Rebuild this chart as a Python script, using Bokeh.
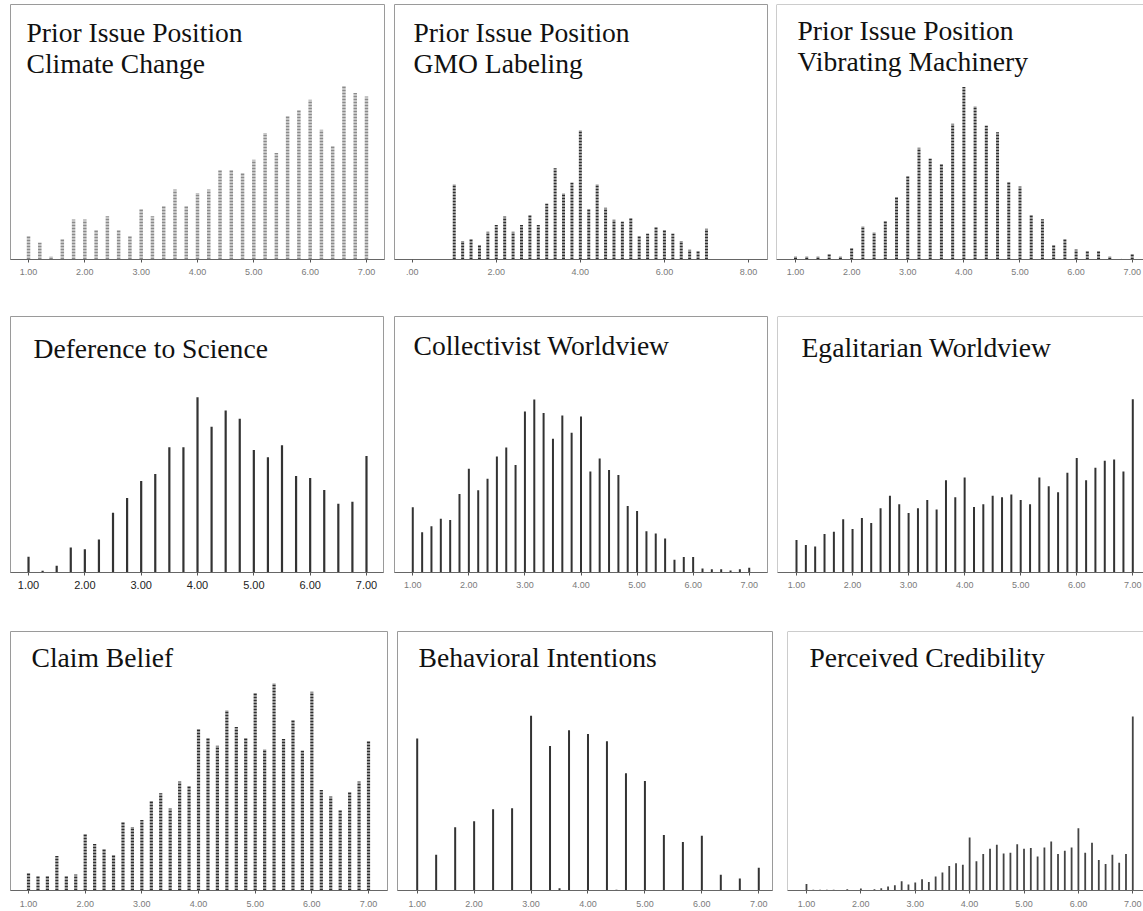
from bokeh.plotting import figure
from bokeh.layouts import column, row
from bokeh.models import ColumnDataSource, Label, Span, FixedTicker
from bokeh.embed import file_html
from bokeh.resources import INLINE

# ---------------- data ----------------
X_FIFTHS = [1.0, 1.2, 1.4, 1.6, 1.8, 2.0, 2.2, 2.4, 2.6, 2.8, 3.0, 3.2, 3.4, 3.6, 3.8, 4.0,
            4.2, 4.4, 4.6, 4.8, 5.0, 5.2, 5.4, 5.6, 5.8, 6.0, 6.2, 6.4, 6.6, 6.8, 7.0]
X_QUARTERS = [1.0, 1.25, 1.5, 1.75, 2.0, 2.25, 2.5, 2.75, 3.0, 3.25, 3.5, 3.75, 4.0, 4.25, 4.5,
              4.75, 5.0, 5.25, 5.5, 5.75, 6.0, 6.25, 6.5, 6.75, 7.0]
X_SIXTHS = [1.0, 1.167, 1.333, 1.5, 1.667, 1.833, 2.0, 2.167, 2.333, 2.5, 2.667, 2.833, 3.0,
            3.167, 3.333, 3.5, 3.667, 3.833, 4.0, 4.167, 4.333, 4.5, 4.667, 4.833, 5.0, 5.167,
            5.333, 5.5, 5.667, 5.833, 6.0, 6.167, 6.333, 6.5, 6.667, 6.833, 7.0]
X_EIGHTHS = [1.0, 1.125, 1.25, 1.375, 1.5, 1.625, 1.75, 1.875, 2.0, 2.125, 2.25, 2.375, 2.5,
             2.625, 2.75, 2.875, 3.0, 3.125, 3.25, 3.375, 3.5, 3.625, 3.75, 3.875, 4.0, 4.125,
             4.25, 4.375, 4.5, 4.625, 4.75, 4.875, 5.0, 5.125, 5.25, 5.375, 5.5, 5.625, 5.75,
             5.875, 6.0, 6.125, 6.25, 6.375, 6.5, 6.625, 6.75, 6.875, 7.0]
X_BEHAV = [1.0, 1.333, 1.667, 2.0, 2.333, 2.667, 3.0, 3.333, 3.5, 3.667, 4.0, 4.333, 4.5,
           4.667, 5.0, 5.333, 5.667, 6.0, 6.333, 6.667, 7.0]

climate_change = [7, 5, 1, 6, 12, 12, 9, 13, 9, 7, 15, 13, 16, 21, 16, 20, 21, 27, 27, 26,
                  30, 38, 32, 43, 45, 48, 39, 34, 52, 50, 49]
gmo_labeling = [22.5, 5.5, 6, 4.5, 8.3, 10.3, 12.9, 8.3, 10.3, 13.5, 10.3, 16.7, 27.3, 19.8,
                23, 38.7, 15, 22.5, 15.5, 11.9, 11.3, 12.3, 7.1, 7.7, 9.8, 8.7, 7.7, 5.5,
                2.9, 2.5, 9.2]
vibrating_machinery = [1, 1, 1, 1.6, 1, 3.6, 10, 8.2, 11.4, 18.6, 25.2, 33.6, 30.3, 28.5,
                       40.8, 51.8, 46, 40.2, 38.2, 23.3, 21.9, 13.4, 12.1, 4.2, 6.2, 3, 2.4,
                       2.4, 1, 0, 1.6]
deference_science = [4.7, 0.5, 2, 7.5, 7, 9.9, 17.9, 22.3, 27.4, 29.5, 37.5, 37.5, 52.5,
                     43.7, 48.5, 46.1, 36.7, 34.5, 38.1, 28.9, 28.3, 24.7, 20.6, 21.2, 34.9]
collectivist = [19.4, 12, 13.8, 16, 15.6, 23.4, 30.9, 24.5, 27.9, 34.5, 37.2, 32, 47.9, 51.5,
                47.5, 39.8, 46.7, 41.6, 46.4, 30.1, 33.9, 30.5, 29, 19.8, 18.3, 12.3, 11.6,
                10.1, 3.8, 4.6, 4.6, 1.2, 1, 1, 0.6, 1, 1.4]
egalitarian = [9.7, 8.2, 7.8, 11.5, 12.2, 15.9, 13, 16.3, 14.8, 19.2, 22.9, 20.4, 17.8, 19.2,
               21.7, 18.8, 27.6, 22.5, 28.4, 19.6, 20.4, 22.9, 22.5, 23.3, 21.7, 20.4, 28.4,
               25.8, 24, 29.8, 34.2, 27.6, 31.3, 33.4, 33.8, 30.2, 51.8]
claim_belief = [5.3, 4.3, 4.3, 10.3, 4.3, 4.8, 17, 13.9, 12.4, 10.8, 20.5, 19, 21.1, 26.6,
                29.1, 24.5, 32.6, 31.2, 48.3, 45.8, 43.3, 53.9, 48.9, 45.8, 59, 42.3, 62,
                45.3, 50.9, 41.8, 59.5, 30.1, 28.1, 24.1, 29.6, 32.6, 44.8]
behavioral = [46.1, 10.8, 19.2, 21, 24.6, 24.9, 53, 43.8, 0.7, 48.6, 47.4, 45.2, 0.2, 35.5,
              33.2, 16.8, 14.7, 16.6, 4.8, 3.6, 6.9]
credibility = [2, 0.2, 0.2, 0.2, 0.2, 0, 0.4, 0, 0.6, 0, 0.4, 0.7, 1.2, 1.6, 2.8, 1.8, 2.4,
               3.4, 2.6, 4.2, 5.4, 7.4, 8.2, 7.8, 16, 8.8, 11, 12.6, 13.8, 11.2, 11.4, 14,
               12.6, 12.8, 10.3, 13, 14.8, 11, 12, 13, 18.8, 11.4, 14.4, 9.2, 8, 10.8, 8.4,
               11, 52.5]

TICKS_1_7 = [1, 2, 3, 4, 5, 6, 7]
LABELS_1_7 = ["1.00", "2.00", "3.00", "4.00", "5.00", "6.00", "7.00"]
TICKS_0_8 = [0, 2, 4, 6, 8]
LABELS_0_8 = [".00", "2.00", "4.00", "6.00", "8.00"]

TITLE_FONT = "Liberation Serif"
TICK_FONT = "Liberation Sans"


def panel(x, h, titles, width, height, borders, x_range, y_end, ticks, labels,
          bar_color, bar_width, bar_dash, title_x, title_ys, tick_size="9px",
          tick_color="#7a7a7a", standoff=6, open_right=False):
    left, right, top, bottom = borders
    p = figure(width=width, height=height, x_range=x_range, y_range=(0, y_end),
               output_backend="svg", toolbar_location=None, title=None,
               y_axis_location=None, min_border_left=left, min_border_right=right,
               min_border_top=top, min_border_bottom=bottom,
               background_fill_color="white", border_fill_color="white")
    p.xgrid.visible = False
    p.ygrid.visible = False
    src = ColumnDataSource(dict(x=x, h=h, zero=[0] * len(x)))
    p.segment(x0="x", y0="zero", x1="x", y1="h", source=src, line_color=bar_color,
              line_width=bar_width, line_dash=bar_dash, line_cap="butt")
    ax = p.xaxis[0]
    ax.ticker = FixedTicker(ticks=ticks)
    ax.major_label_overrides = {t: l for t, l in zip(ticks, labels)}
    ax.minor_tick_line_color = None
    ax.major_tick_in = 0
    ax.major_tick_out = 3
    ax.major_tick_line_color = "#555555"
    ax.axis_line_color = "#666666"
    ax.major_label_text_font = TICK_FONT
    ax.major_label_text_font_size = tick_size
    ax.major_label_text_color = tick_color
    ax.major_label_standoff = standoff
    if open_right:
        p.outline_line_color = None
        p.add_layout(Span(location=x_range[0], dimension="height",
                          line_color="#9a9a9a", line_width=1))
        p.add_layout(Span(location=y_end, dimension="width",
                          line_color="#9a9a9a", line_width=1))
    else:
        p.outline_line_color = "#9a9a9a"
        p.outline_line_width = 1
    for t, ty in zip(titles, title_ys):
        p.add_layout(Label(x=title_x, y=ty, x_units="screen", y_units="screen", text=t,
                           text_font=TITLE_FONT, text_font_size="27.6px",
                           text_color="#111111", text_baseline="alphabetic"))
    return p


DOT = "2 1"
p1 = panel(X_FIFTHS, climate_change, ["Prior Issue Position", "Climate Change"],
           390, 300, (10, 6, 4, 41), (0.680, 7.320), 76.6, TICKS_1_7, LABELS_1_7,
           "#8a8a8a", 3.5, "2 1", 16, [227, 196])
p2 = panel(X_FIFTHS, gmo_labeling, ["Prior Issue Position", "GMO Labeling"],
           386, 300, (4, 9, 4, 41), (-0.421, 8.452), 76.3, TICKS_0_8, LABELS_0_8,
           "#2e2e2e", 3, DOT, 19, [227, 196])
p3 = panel(X_FIFTHS, vibrating_machinery, ["Prior Issue Position", "Vibrating Machinery"],
           367, 300, (0, 0, 4, 41), (0.661, 7.201), 76.6, TICKS_1_7, LABELS_1_7,
           "#2e2e2e", 3, DOT, 21, [229, 198], open_right=True)

p4 = panel(X_QUARTERS, deference_science, ["Deference to Science"],
           390, 315, (10, 7, 16, 43), (0.680, 7.302), 76.7, TICKS_1_7, LABELS_1_7,
           "#333333", 2.2, "solid", 23, [224], tick_size="11px", tick_color="#222222",
           standoff=5)
p5 = panel(X_SIXTHS, collectivist, ["Collectivist Worldview"],
           387, 315, (4, 10, 16, 43), (0.674, 7.326), 76.2, TICKS_1_7, LABELS_1_7,
           "#333333", 2, "solid", 19, [227])
p6 = panel(X_SIXTHS, egalitarian, ["Egalitarian Worldview"],
           366, 315, (0, 0, 16, 43), (0.661, 7.191), 76.5, TICKS_1_7, LABELS_1_7,
           "#333333", 2, "solid", 24, [225], open_right=True)

p7 = panel(X_SIXTHS, claim_belief, ["Claim Belief"],
           393, 296, (10, 6, 16, 21), (0.682, 7.335), 77.5, TICKS_1_7, LABELS_1_7,
           "#2e2e2e", 3.2, DOT, 21, [233], standoff=7)
p8 = panel(X_BEHAV, behavioral, ["Behavioral Intentions"],
           387, 296, (4, 8, 16, 21), (0.654, 7.241), 78.5, TICKS_1_7, LABELS_1_7,
           "#333333", 2, "solid", 21, [233], standoff=7)
p9 = panel(X_EIGHTHS, credibility, ["Perceived Credibility"],
           363, 296, (7, 0, 16, 21), (0.651, 7.197), 78.2, TICKS_1_7, LABELS_1_7,
           "#444444", 1.8, "solid", 22, [233], standoff=7, open_right=True)

layout = column(row(p1, p2, p3), row(p4, p5, p6), row(p7, p8, p9))

open("out.html", "w").write(file_html(layout, INLINE))
